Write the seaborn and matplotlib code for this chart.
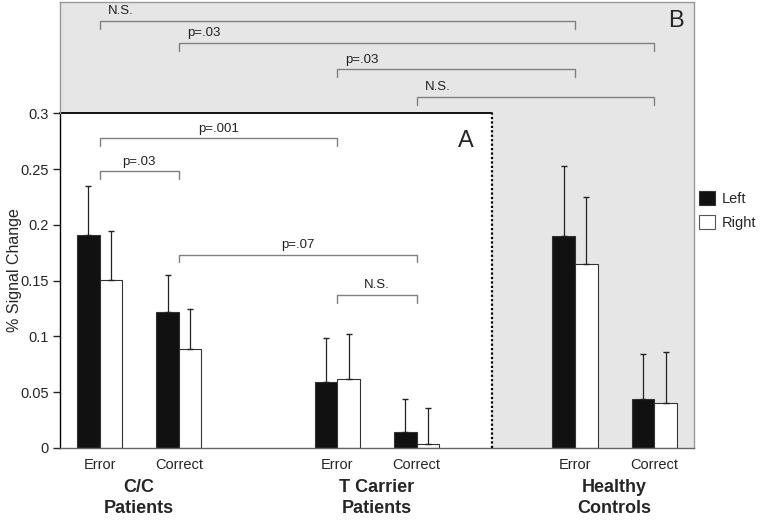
"""
Left / right % signal change for error and correct trials in C/C patients,
T carrier patients and healthy controls, with the pairwise comparisons drawn
as brackets (panel A: patients only, panel B: patients vs controls).
"""

import pandas as pd
import matplotlib.pyplot as plt
import seaborn as sns
from matplotlib.patches import Patch, Rectangle


GROUPS = ["C/C\nPatients", "T Carrier\nPatients", "Healthy\nControls"]
CONDITIONS = ["Error", "Correct"]
SIDES = ["Left", "Right"]

# one value per group x condition, in order (C/C err, C/C cor, T err, ...)
LEFT_MEAN = [0.191, 0.122, 0.059, 0.014, 0.190, 0.044]
RIGHT_MEAN = [0.151, 0.089, 0.062, 0.004, 0.165, 0.040]
LEFT_ERR = [0.044, 0.033, 0.040, 0.030, 0.063, 0.040]
RIGHT_ERR = [0.044, 0.036, 0.040, 0.032, 0.060, 0.046]

YTICKS = [0, 0.05, 0.1, 0.15, 0.2, 0.25, 0.3]
YTICK_LABELS = ["0", "0.05", "0.1", "0.15", "0.2", "0.25", "0.3"]

# comparisons: (cell from, cell to, bracket height, label)
BRACKETS_A = [(0, 2, 0.2776, "p=.001"), (0, 1, 0.248, "p=.03"),
              (1, 3, 0.1734, "p=.07"), (2, 3, 0.137, "N.S.")]
BRACKETS_B = [(0, 4, 0.3827, "N.S."), (1, 5, 0.363, "p=.03"),
              (2, 4, 0.3395, "p=.03"), (3, 5, 0.315, "N.S.")]

PANEL_GRAY = "#e6e6e6"
BRACKET_COLOR = "#808080"
FONTS = ["Liberation Sans Narrow", "Liberation Sans", "DejaVu Sans"]


def cell_pos(k):
    # leave one empty slot between groups
    return (k // len(CONDITIONS)) * (len(CONDITIONS) + 1) + k % len(CONDITIONS)


def build_frame():
    rows = []
    for k in range(len(LEFT_MEAN)):
        for side, means, errs in (("Left", LEFT_MEAN, LEFT_ERR),
                                  ("Right", RIGHT_MEAN, RIGHT_ERR)):
            rows.append({"pos": cell_pos(k), "side": side,
                         "value": means[k], "err": errs[k]})
    return pd.DataFrame(rows)


def draw_bracket(ax, k0, k1, y, label, centered):
    x0, x1 = cell_pos(k0), cell_pos(k1)
    tick = 0.007
    ax.plot([x0, x0, x1, x1], [y - tick, y, y, y - tick],
            color=BRACKET_COLOR, lw=1.0, zorder=3)
    if centered:
        ax.text((x0 + x1) / 2, y + 0.0035, label, ha="center", va="bottom",
                fontsize=9.5, color="#222222")
    else:
        ax.text(x0 + 0.1, y + 0.0035, label, ha="left", va="bottom",
                fontsize=9.5, color="#222222")


def main():
    sns.set_style("ticks")
    plt.rcParams["font.family"] = FONTS

    df = build_frame()
    fig = plt.figure(figsize=(7.61, 5.20), dpi=100)
    ax = fig.add_axes([0.0788, 0.1385, 0.8331, 0.8577])
    ax.set_facecolor(PANEL_GRAY)

    sns.barplot(ax=ax, data=df, x="pos", y="value", hue="side",
                hue_order=SIDES, palette={"Left": "#111111", "Right": "white"},
                native_scale=True, width=0.57, errorbar=None, legend=False,
                edgecolor="#333333", linewidth=0.8, saturation=1, zorder=2)

    # upper-only error bars, placed on the bars seaborn drew
    for side, container in zip(SIDES, ax.containers):
        sub = df[df["side"] == side].set_index("pos")
        xs, ys, es = [], [], []
        for bar in container:
            xc = bar.get_x() + bar.get_width() / 2
            xs.append(xc)
            ys.append(bar.get_height())
            es.append(sub.loc[round(xc), "err"])
        ax.errorbar(xs, ys, yerr=[[0] * len(es), es], fmt="none",
                    ecolor="#222222", elinewidth=0.9, capsize=2.5,
                    capthick=1.0, zorder=3)

    ax.set_xlim(-0.5, 7.5)
    ax.set_ylim(0, 0.4)

    # panel A: white box over the patient groups
    a_right = 4.95
    ax.add_patch(Rectangle((-0.5, 0), a_right + 0.5, 0.3, facecolor="white",
                           edgecolor="none", zorder=0.5))
    ax.plot([-0.5, a_right], [0.3, 0.3], color="black", lw=1.3, zorder=3,
            clip_on=False)
    ax.plot([a_right, a_right], [0, 0.3], color="black", lw=1.6, ls=(0, (1, 1)),
            zorder=3)
    ax.text(4.62, 0.275, "A", fontsize=17, ha="center", va="center")
    ax.text(7.27, 0.383, "B", fontsize=17, ha="center", va="center")

    for k0, k1, y, label in BRACKETS_A:
        draw_bracket(ax, k0, k1, y, label, centered=True)
    for k0, k1, y, label in BRACKETS_B:
        draw_bracket(ax, k0, k1, y, label, centered=False)

    # spines: black y axis for panel A, grey border for panel B
    for side in ("top", "right"):
        ax.spines[side].set_color("#999999")
        ax.spines[side].set_linewidth(1.0)
    ax.spines["bottom"].set_color("#666666")
    ax.spines["bottom"].set_linewidth(1.0)
    ax.spines["left"].set_color("black")
    ax.spines["left"].set_linewidth(1.0)
    ax.spines["left"].set_bounds(0, 0.3)
    ax.plot([0, 0], [0.75, 1.0], transform=ax.transAxes, color="#999999",
            lw=1.0, clip_on=False, zorder=3)

    ax.set_yticks(YTICKS)
    ax.set_yticklabels(YTICK_LABELS)
    ax.tick_params(axis="y", length=5, width=1.0, labelsize=10.5, pad=3)
    ax.set_ylabel("% Signal Change", fontsize=11.5)
    ax.yaxis.set_label_coords(-0.06, 0.40)

    ax.set_xticks([cell_pos(k) for k in range(len(LEFT_MEAN))])
    ax.set_xticklabels(CONDITIONS * len(GROUPS))
    ax.tick_params(axis="x", length=0, labelsize=10.5, pad=7)
    ax.set_xlabel("")

    for gi, name in enumerate(GROUPS):
        xc = (cell_pos(gi * 2) + cell_pos(gi * 2 + 1)) / 2
        ax.annotate(name, xy=(xc, 0), xycoords=ax.get_xaxis_transform(),
                    xytext=(0, -36), textcoords="offset points",
                    ha="center", va="center", fontsize=13, fontweight="bold",
                    linespacing=1.35, annotation_clip=False)

    handles = [Patch(facecolor="#111111", edgecolor="#333333", lw=0.8),
               Patch(facecolor="white", edgecolor="#555555", lw=0.8)]
    fig.legend(handles, SIDES, loc="upper left", bbox_to_anchor=(0.918, 0.632),
               bbox_transform=fig.transFigure, frameon=False, fontsize=10.5,
               handlelength=1.1, handleheight=1.1, handletextpad=0.5,
               labelspacing=0.6, borderpad=0, borderaxespad=0)

    fig.savefig("out.png", dpi=100)
    plt.close(fig)


if __name__ == "__main__":
    main()
